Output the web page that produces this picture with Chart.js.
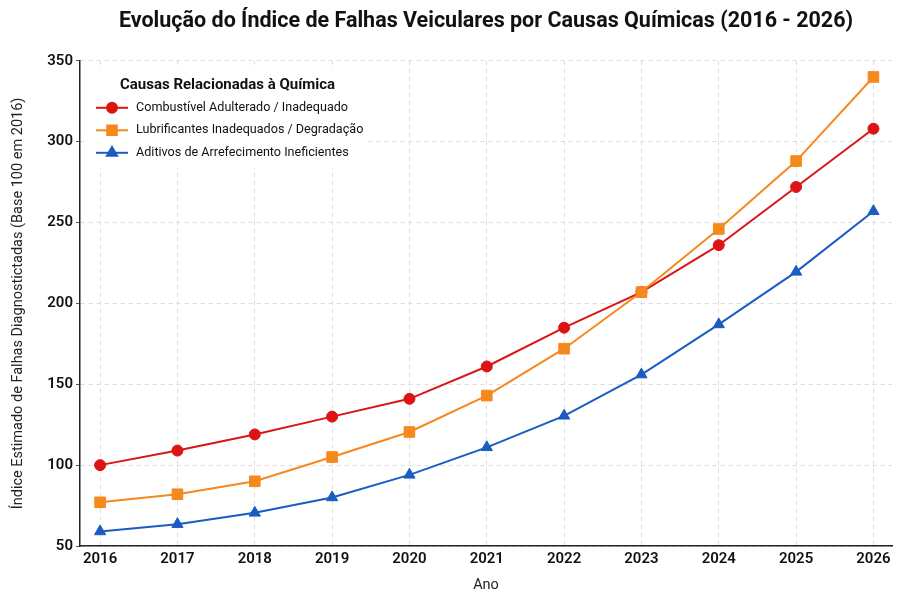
<!DOCTYPE html>
<html>
<head>
<meta charset="utf-8">
<script src="https://cdn.jsdelivr.net/npm/chart.js@4.4.1/dist/chart.umd.min.js"></script>
<style>
  html, body { margin: 0; padding: 0; background: #fff; }
  #wrap { width: 907px; height: 598px; }
</style>
</head>
<body>
<div id="wrap"><canvas id="chart"></canvas></div>
<script>
const years = [2016, 2017, 2018, 2019, 2020, 2021, 2022, 2023, 2024, 2025, 2026];
const seriesNames = [
  'Combustível Adulterado / Inadequado',
  'Lubrificantes Inadequados / Degradação',
  'Aditivos de Arrefecimento Ineficientes'
];
const combustivel = [100, 109, 119, 130, 141, 161, 185, 207, 236, 272, 308];
const lubrificantes = [77, 82, 90, 105, 120.5, 143, 172, 207, 246, 288, 340];
const aditivos = [59, 63.5, 70.5, 80, 94, 111, 130.5, 156, 187, 219.5, 257];
const yTicks = [50, 100, 150, 200, 250, 300, 350];

const colors = ['#dc1414', '#f5891c', '#1a5cc2'];
const markers = ['circle', 'rect', 'triangle'];
const markerSizes = [5.5, 7.5, 6.5];
const allValues = [combustivel, lubrificantes, aditivos];

const fontFamily = 'Roboto, "Noto Sans", sans-serif';

function toPoints(values) {
  return values.map((v, i) => ({ x: years[i], y: v }));
}

// later series sit on top of earlier ones
const datasets = allValues.map((vals, i) => ({
  label: seriesNames[i],
  data: toPoints(vals),
  order: allValues.length - i,
  borderColor: colors[i],
  backgroundColor: colors[i],
  borderWidth: 2,
  pointStyle: markers[i],
  pointRadius: markerSizes[i],
  pointHoverRadius: markerSizes[i],
  pointBorderWidth: 1,
  tension: 0
}));

// legend drawn inside the plot, with a white box over the grid
const insideLegend = {
  id: 'insideLegend',
  afterDatasetsDraw(chart) {
    const ctx = chart.ctx;
    const area = chart.chartArea;
    const x0 = area.left + 8, y0 = area.top + 7;
    ctx.save();
    ctx.fillStyle = 'rgba(255,255,255,0.95)';
    ctx.beginPath();
    ctx.roundRect(x0, y0, 278, 100, 4);
    ctx.fill();

    ctx.fillStyle = '#111';
    ctx.textBaseline = 'middle';
    ctx.font = 'bold 15px ' + fontFamily;
    ctx.fillText('Causas Relacionadas à Química', x0 + 32, y0 + 17);

    ctx.font = '12.6px ' + fontFamily;
    chart.data.datasets.forEach((ds, i) => {
      const yy = y0 + 40 + i * 22.5;
      ctx.strokeStyle = ds.borderColor;
      ctx.lineWidth = 2;
      ctx.beginPath();
      ctx.moveTo(x0 + 8, yy);
      ctx.lineTo(x0 + 40, yy);
      ctx.stroke();
      ctx.fillStyle = ds.backgroundColor;
      Chart.helpers.drawPoint(ctx, { pointStyle: ds.pointStyle, radius: ds.pointRadius * 0.9, borderWidth: 1, rotation: 0 }, x0 + 24, yy);
      ctx.fillStyle = '#111';
      ctx.fillText(ds.label, x0 + 48, yy);
    });
    ctx.restore();
  }
};

new Chart(document.getElementById('chart'), {
  type: 'line',
  data: { datasets: datasets },
  options: {
    responsive: true,
    maintainAspectRatio: false,
    animation: false,
    layout: { padding: { left: 4, right: 15, top: 0, bottom: 0 } },
    plugins: {
      legend: { display: false },
      tooltip: { enabled: false },
      title: {
        display: true,
        fullSize: false,
        text: 'Evolução do Índice de Falhas Veiculares por Causas Químicas (2016 - 2026)',
        color: '#111',
        font: { family: fontFamily, size: 21.5, weight: 'bold' },
        padding: { top: 9, bottom: 26 }
      }
    },
    scales: {
      x: {
        type: 'linear',
        min: 2015.74,
        max: 2026.24,
        afterBuildTicks(scale) {
          scale.ticks = years.map(v => ({ value: v }));
        },
        afterFit(scale) { scale.height = 52; },
        border: { display: true, color: '#222', width: 1.5, dash: [4, 4] },
        grid: {
          color: '#dcdcdc',
          drawTicks: false,
          lineWidth: 1
        },
        ticks: {
          color: '#111',
          font: { family: fontFamily, size: 15, weight: '600' },
          padding: 4,
          callback: v => String(v)
        },
        title: {
          display: true,
          text: 'Ano',
          color: '#222',
          font: { family: fontFamily, size: 14.5 },
          padding: { top: 12 }
        }
      },
      y: {
        min: 50,
        max: 350,
        afterBuildTicks(scale) {
          scale.ticks = yTicks.map(v => ({ value: v }));
        },
        afterFit(scale) { scale.width = 76; },
        border: { display: true, color: '#222', width: 1.5, dash: [4, 4] },
        grid: {
          color: '#dcdcdc',
          tickColor: '#555',
          tickLength: 4,
          tickBorderDash: [],
          lineWidth: 1
        },
        ticks: {
          color: '#111',
          font: { family: fontFamily, size: 15, weight: '600' },
          padding: 3
        },
        title: {
          display: true,
          text: 'Índice Estimado de Falhas Diagnostictadas (Base 100 em 2016)',
          color: '#222',
          font: { family: fontFamily, size: 14.5 },
          padding: { top: 6, bottom: 6 }
        }
      }
    }
  },
  plugins: [insideLegend]
});
</script>
</body>
</html>
